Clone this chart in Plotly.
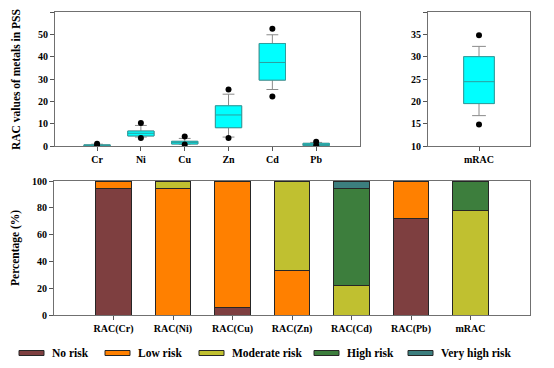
import plotly.graph_objects as go

# ---------------- data ----------------
metals = ["Cr", "Ni", "Cu", "Zn", "Cd", "Pb"]
q1 = [0.1, 4.5, 0.9, 8.2, 29.5, 0.2]
median = [0.3, 5.7, 1.6, 13.9, 37.4, 0.7]
q3 = [0.5, 6.7, 2.1, 18.0, 45.9, 1.2]
lower_whisker = [0.0, 4.0, 0.8, 4.0, 25.3, 0.2]
upper_whisker = [0.8, 9.2, 3.4, 23.2, 49.8, 1.6]
outlier_low = [0.0, 3.6, 0.7, 3.6, 22.2, 0.2]
outlier_high = [1.0, 10.3, 4.2, 25.3, 52.5, 1.9]

mrac_label = ["mRAC"]
mrac_q1 = [19.5]
mrac_median = [24.4]
mrac_q3 = [30.0]
mrac_lower_whisker = [16.8]
mrac_upper_whisker = [32.3]
mrac_outlier_low = [14.8]
mrac_outlier_high = [34.8]

bar_categories = ["RAC(Cr)", "RAC(Ni)", "RAC(Cu)", "RAC(Zn)", "RAC(Cd)", "RAC(Pb)", "mRAC"]
risk_names = ["No risk", "Low risk", "Moderate risk", "High risk", "Very high risk"]
no_risk = [94.3, 0, 5.5, 0, 0, 72.3, 0]
low_risk = [5.7, 94.3, 94.5, 33.4, 0, 27.7, 0]
moderate_risk = [0, 5.7, 0, 66.6, 22.3, 0, 77.7]
high_risk = [0, 0, 0, 0, 72.0, 0, 22.3]
very_high_risk = [0, 0, 0, 0, 5.7, 0, 0]
risk_values = [no_risk, low_risk, moderate_risk, high_risk, very_high_risk]
risk_colors = ["#7E3F40", "#FF8000", "#C0C030", "#3D7E3D", "#3C7E7E"]

# ---------------- figure ----------------
# The page body has an 8px margin, so the figure is sized to fit the window exactly.
PAGE_W, PAGE_H, BODY_MARGIN = 554, 368, 8
W, H = PAGE_W - 2 * BODY_MARGIN, PAGE_H - 2 * BODY_MARGIN
FONT = "Liberation Serif"
fig = go.Figure()

box_fill = "#00FFFF"
box_line = "#2E9E9E"
whisker_col = "#8A8A8A"


def add_boxes(xs, a, m, b, lo, hi, xa, ya):
    # whiskers (gray)
    fig.add_trace(go.Box(x=xs, q1=a, median=m, q3=b, lowerfence=lo, upperfence=hi,
                         fillcolor=box_fill, line=dict(color=whisker_col, width=1),
                         width=0.6, whiskerwidth=0.45, boxpoints=False,
                         xaxis=xa, yaxis=ya, showlegend=False, hoverinfo="skip"))
    # box body (cyan, teal outline)
    fig.add_trace(go.Box(x=xs, q1=a, median=m, q3=b, lowerfence=a, upperfence=b,
                         fillcolor=box_fill, line=dict(color=box_line, width=1),
                         width=0.6, whiskerwidth=0, boxpoints=False,
                         xaxis=xa, yaxis=ya, showlegend=False))


def add_outliers(xs, lo, hi, xa, ya):
    fig.add_trace(go.Scatter(x=xs + xs, y=lo + hi, mode="markers",
                             marker=dict(color="black", size=6),
                             xaxis=xa, yaxis=ya, showlegend=False))


add_boxes(metals, q1, median, q3, lower_whisker, upper_whisker, "x", "y")
add_outliers(metals, outlier_low, outlier_high, "x", "y")
add_boxes(mrac_label, mrac_q1, mrac_median, mrac_q3, mrac_lower_whisker,
          mrac_upper_whisker, "x2", "y2")
add_outliers(mrac_label, mrac_outlier_low, mrac_outlier_high, "x2", "y2")

for name, vals, col in zip(risk_names, risk_values, risk_colors):
    fig.add_trace(go.Bar(x=bar_categories, y=vals, name=name, width=0.6,
                         marker=dict(color=col, line=dict(color="#262626", width=1)),
                         xaxis="x3", yaxis="y3", showlegend=False))


def px_x(p):
    return (p - BODY_MARGIN) / W


def px_y(p):
    return 1 - (p - BODY_MARGIN) / H


tick_font = dict(family=FONT, size=10, color="black", weight="bold")
axis_common = dict(showgrid=False, zeroline=False, showline=True, mirror=True,
                   linecolor="#707070", linewidth=1, ticks="outside", ticklen=4,
                   tickcolor="#555555", tickfont=tick_font, automargin=False)

fig.update_layout(
    template="none",
    width=W, height=H, margin=dict(l=0, r=0, t=0, b=0, autoexpand=False),
    paper_bgcolor="white", plot_bgcolor="white",
    boxmode="overlay", barmode="stack", bargap=0.4, showlegend=False,
    xaxis=dict(domain=[px_x(55), px_x(360)], anchor="y", type="category",
               range=[-0.96, 6.0], **axis_common),
    yaxis=dict(domain=[px_y(146), px_y(12)], anchor="x", range=[0, 60],
               tickvals=[0, 10, 20, 30, 40, 50, 60], **axis_common),
    xaxis2=dict(domain=[px_x(428), px_x(530)], anchor="y2", type="category",
                range=[-1, 1], **axis_common),
    yaxis2=dict(domain=[px_y(146), px_y(12)], anchor="x2", range=[10, 40],
                tickvals=[10, 15, 20, 25, 30, 35, 40], **axis_common),
    xaxis3=dict(domain=[px_x(54), px_x(530)], anchor="y3", type="category",
                range=[-1, 7], **axis_common),
    yaxis3=dict(domain=[px_y(315), px_y(181)], anchor="x3", range=[0, 100],
                tickvals=[0, 20, 40, 60, 80, 100], **axis_common),
)

# axis titles
fig.add_annotation(text="<b>RAC values of metals in PSS</b>", x=px_x(16), y=px_y(80),
                   xref="paper", yref="paper", textangle=-90, showarrow=False,
                   xanchor="center", yanchor="middle",
                   font=dict(family=FONT, size=11.5, color="black"))
fig.add_annotation(text="<b>Percentage (%)</b>", x=px_x(16), y=px_y(248),
                   xref="paper", yref="paper", textangle=-90, showarrow=False,
                   xanchor="center", yanchor="middle",
                   font=dict(family=FONT, size=11.5, color="black"))

# legend (swatch + label)
swatch_x = [19, 105, 199, 314, 408]
for name, col, sx in zip(risk_names, risk_colors, swatch_x):
    fig.add_shape(type="rect", xref="paper", yref="paper",
                  x0=px_x(sx), x1=px_x(sx + 25), y0=px_y(355.5), y1=px_y(350.5),
                  fillcolor=col, line=dict(color="#262626", width=1))
    fig.add_annotation(text="<b>" + name + "</b>", x=px_x(sx + 31), y=px_y(353),
                       xref="paper", yref="paper", xanchor="left", yanchor="middle",
                       showarrow=False, font=dict(family=FONT, size=11.5, color="black"))

fig.write_html("out.html")
